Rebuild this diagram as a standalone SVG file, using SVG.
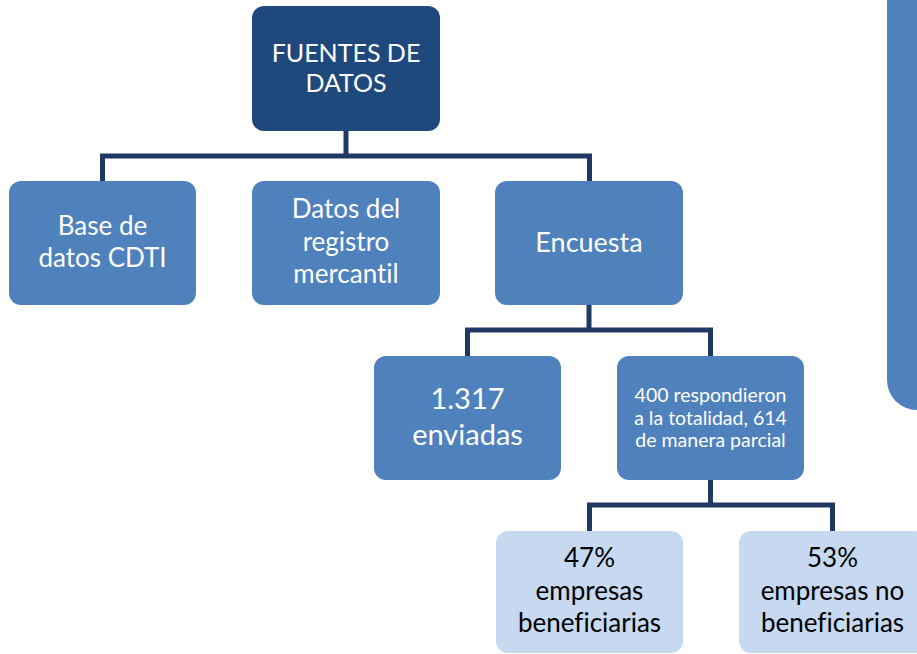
<svg xmlns="http://www.w3.org/2000/svg" width="917" height="654" viewBox="0 0 917 654">
<style>
.dark{fill:#1F497D}
.mid{fill:#4F81BD}
.light{fill:#C6D9F1}
.t{font-family:Lato,"Open Sans","Liberation Sans",sans-serif;text-anchor:middle;fill:#FFFFFF;font-variant-ligatures:none}
.tb{font-family:Lato,"Open Sans","Liberation Sans",sans-serif;text-anchor:middle;fill:#000000;font-size:26px;font-variant-ligatures:none}
.conn{fill:none;stroke:#1F3864;stroke-width:5;stroke-linejoin:miter}
</style>
<rect width="917" height="654" fill="#FFFFFF"/>
<g id="side-panel">
<rect x="887" y="-40" width="80" height="450" rx="30" class="mid"/>
</g>
<g id="connectors">
<path class="conn" d="M346 131 V156 M102.5 181 V156 H589.5 V181"/>
<path class="conn" d="M589 305 V330 M467.5 356 V330 H710.5 V356"/>
<path class="conn" d="M710.5 480 V505 M589.5 531 V505 H832.5 V531"/>
</g>
<g id="fuentes">
<rect x="252" y="6" width="188" height="125" rx="12" class="dark"/>
<text class="t" font-size="25"><tspan x="346" y="62">FUENTES DE</tspan><tspan x="346" y="92">DATOS</tspan></text>
</g>
<g id="base-cdti">
<rect x="9" y="181" width="187" height="124" rx="12" class="mid"/>
<text class="t" font-size="26"><tspan x="102.5" y="235">Base de</tspan><tspan x="102.5" y="267">datos CDTI</tspan></text>
</g>
<g id="registro">
<rect x="252" y="181" width="188" height="124" rx="12" class="mid"/>
<text class="t" font-size="26"><tspan x="346" y="218">Datos del</tspan><tspan x="346" y="251">registro</tspan><tspan x="346" y="283">mercantil</tspan></text>
</g>
<g id="encuesta">
<rect x="495" y="181" width="188" height="124" rx="12" class="mid"/>
<text class="t" font-size="27"><tspan x="589" y="252">Encuesta</tspan></text>
</g>
<g id="enviadas">
<rect x="374" y="356" width="187" height="124" rx="12" class="mid"/>
<text class="t" font-size="29"><tspan x="467.5" y="409">1.317</tspan><tspan x="467.5" y="445">enviadas</tspan></text>
</g>
<g id="respondieron">
<rect x="617" y="356" width="187" height="124" rx="12" class="mid"/>
<text class="t" font-size="19.5"><tspan x="710.5" y="402">400 respondieron</tspan><tspan x="710.5" y="425">a la totalidad, 614</tspan><tspan x="710.5" y="447">de manera parcial</tspan></text>
</g>
<g id="beneficiarias">
<rect x="496" y="531" width="187" height="122" rx="12" class="light"/>
<text class="tb"><tspan x="589.5" y="567">47%</tspan><tspan x="589.5" y="600">empresas</tspan><tspan x="589.5" y="632">beneficiarias</tspan></text>
</g>
<g id="no-beneficiarias">
<rect x="739" y="531" width="187" height="122" rx="12" class="light"/>
<text class="tb"><tspan x="832.5" y="567">53%</tspan><tspan x="832.5" y="600">empresas no</tspan><tspan x="832.5" y="632">beneficiarias</tspan></text>
</g>
</svg>
